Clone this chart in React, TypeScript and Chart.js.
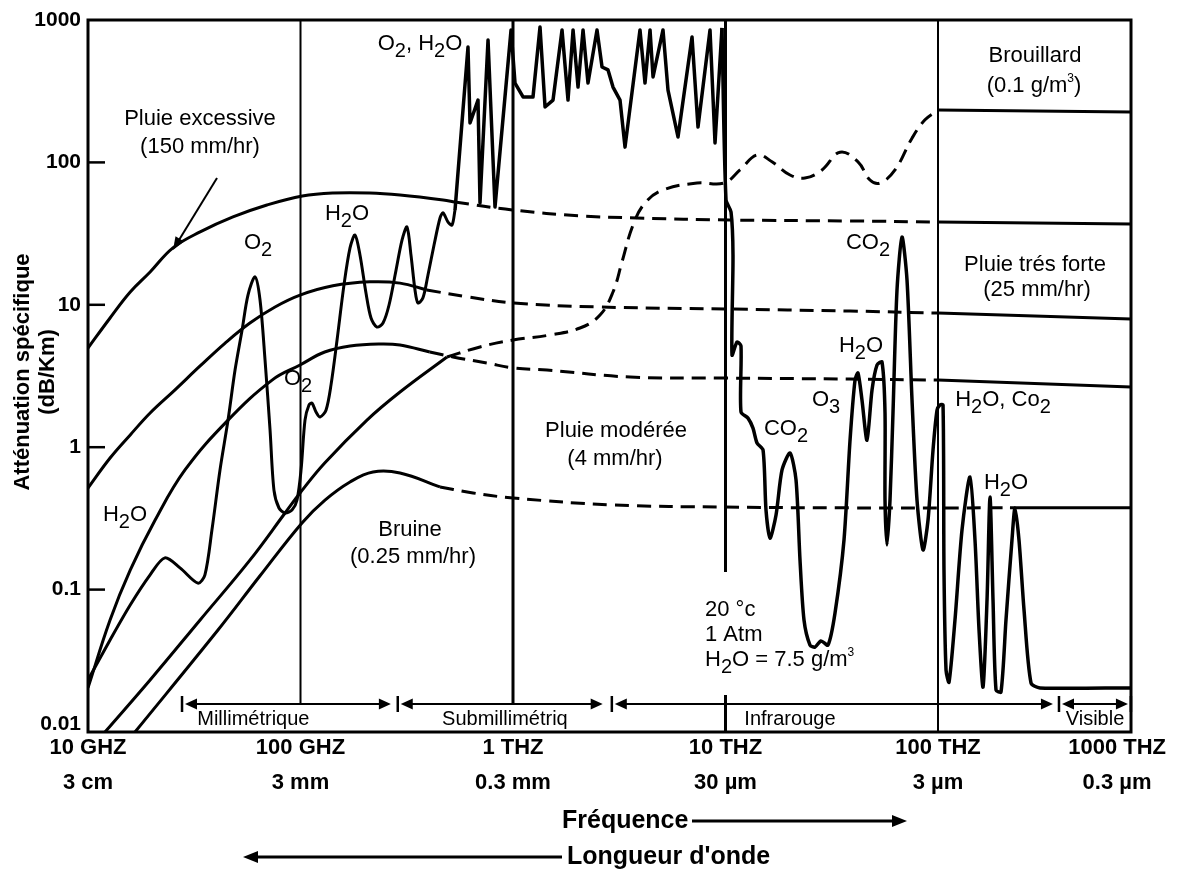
import React, { useEffect, useRef } from "react";
import { Chart, registerables } from "chart.js";

Chart.register(...registerables);

const FONT = "'Liberation Sans', Arial, Helvetica, sans-serif";

// ---- axes (frequency in GHz, attenuation in dB/km) ----
const xMinGHz = 10;
const xMaxGHz = 809500;
const yMin = 0.01;
const yMax = 1000;
const yTickValues = [0.01, 0.1, 1, 10, 100, 1000];
const yTickLabels = ["0.01", "0.1", "1", "10", "100", "1000"];
const yInnerTickValues = [0.1, 1, 10, 100];
const xTickValues = [10, 100, 1000, 10000, 100000, 1000000];
const xTickFreqLabels = ["10 GHZ", "100 GHZ", "1 THZ", "10 THZ", "100 THZ", "1000 THZ"];
const xTickWaveLabels = ["3 cm", "3 mm", "0.3 mm", "30 µm", "3 µm", "0.3 µm"];
const refLineFreqs = [100, 1000, 10000, 100000];

// ---- spectral bands ----
const bandNames = ["Millimétrique", "Submillimétriq", "Infrarouge", "Visible"];
const bandStartGHz = [28, 290, 2950, 375000];
const bandEndGHz = [272, 2700, 355000, 800000];
const bandLabelGHz = [60, 916, 20100, 548000];

// ---- Pluie excessive (150 mm/hr) ----
const excSolidFreq = [10, 12.7, 15.8, 19.6, 25.1, 33.7, 48.1, 69.5, 102, 142, 212, 294, 469, 533];
const excSolidAtt = [4.97, 8.08, 12.3, 17.0, 25.1, 32.5, 41.4, 50.2, 58.1, 61, 61, 59, 54.5, 52.7];
const excDashFreq = [533, 1000, 2065, 3830, 10470, 38400, 100000];
const excDashAtt = [52.7, 46.3, 42.1, 40.7, 39.4, 38.8, 38.1];
const excRightFreq = [100000, 809500];
const excRightAtt = [38.1, 36.9];

// ---- Pluie très forte (25 mm/hr) ----
const forteSolidFreq = [10, 12.7, 15.8, 19.6, 25.6, 33.7, 44.2, 57.8, 75.9, 99.5, 142, 212, 294, 393];
const forteSolidAtt = [0.517, 0.84, 1.22, 1.74, 2.52, 3.72, 5.39, 7.45, 9.66, 11.7, 13.6, 14.5, 14.2, 12.7];
const forteDashFreq = [393, 608, 1000, 2480, 9950, 38500, 100000];
const forteDashAtt = [12.7, 11.4, 10.3, 9.66, 9.35, 9.04, 8.75];
const forteRightFreq = [100000, 809500];
const forteRightAtt = [8.75, 7.94];

// ---- Pluie modérée (4 mm/hr) ----
const modSolidFreq = [10, 12.7, 15.8, 20.7, 28.6, 45.6, 73.5, 99.5, 130, 171, 237, 294, 406];
const modSolidAtt = [0.0204, 0.0612, 0.137, 0.308, 0.692, 1.55, 2.96, 3.78, 4.66, 5.14, 5.31, 5.22, 4.66];
const modDashFreq = [406, 522, 755, 1000, 1445, 3560, 9950, 38500, 100000];
const modDashAtt = [4.66, 4.3, 3.9, 3.6, 3.48, 3.11, 3.06, 3.01, 2.96];
const modRightFreq = [100000, 809500];
const modRightAtt = [2.96, 2.65];

// ---- Bruine (0.25 mm/hr) ----
const bruSolidFreq = [16.64, 40.9, 64.5, 101.6, 130.4, 171, 219.4, 294, 453.5];
const bruSolidAtt = [0.01, 0.052, 0.125, 0.294, 0.425, 0.57, 0.67, 0.659, 0.526];
const bruDashFreq = [453.5, 648.4, 1000, 2955, 9950, 38500, 218100];
const bruDashAtt = [0.526, 0.477, 0.44, 0.393, 0.38, 0.375, 0.375];
const bruRightFreq = [218100, 809500];
const bruRightAtt = [0.375, 0.375];

// ---- Brouillard (0.1 g/m3) ----
const fogSolidFreq = [12.02, 19.6, 33.7, 57.8, 84.6, 99.5, 130, 205.5, 294, 489];
const fogSolidAtt = [0.01, 0.0232, 0.0612, 0.161, 0.345, 0.477, 0.774, 1.55, 2.44, 4.3];
const fogDashFreq = [489, 699.4, 1000, 1493, 2067, 2567, 2955, 3258, 3670, 4180, 5080, 7345, 9838, 11700, 14070, 16550, 20120, 23660, 28460, 34580, 42030, 47860, 53350, 62760, 75460, 86860, 100000];
const fogDashAtt = [4.3, 5.06, 5.66, 6.14, 6.87, 8.47, 12.3, 20.0, 36.3, 51.9, 64.0, 71.6, 71.6, 88.5, 113, 101, 81.6, 77.6, 88.5, 118, 101, 75.2, 71.6, 88.5, 148, 199, 233];
const fogRightFreq = [100000, 809500];
const fogRightAtt = [233, 226];

// ---- Gaz atmosphériques (20 °C, 1 atm, H2O 7.5 g/m3) ----
const gasMmFreq = [10, 12.7, 15.8, 19.6, 23.0, 27.1, 32.9, 35.5, 38.3, 41.8, 45.6, 49.2, 53.1, 56.6, 61.1, 64.5, 68.1, 71.9, 75.0, 79.2, 84.6, 91.2, 96.3, 100.6, 105, 109.6, 113.3, 118.3, 123.6, 131.8, 139.2, 148.6, 160.2, 171, 180.5, 190.5, 203.3, 214.7, 229, 244.5, 261, 281.5, 300.4, 317, 331, 345.8, 357, 377, 398, 425, 453.5, 468.5, 494.6, 516.5, 533.5];
const gasMmAtt = [0.0232, 0.0443, 0.078, 0.127, 0.167, 0.142, 0.111, 0.127, 0.262, 0.692, 1.55, 3.48, 6.65, 11.7, 15.7, 10.8, 4.09, 1.32, 0.5, 0.374, 0.345, 0.362, 0.426, 0.692, 1.55, 1.98, 2.04, 1.77, 1.63, 1.82, 2.74, 5.66, 13.8, 25.1, 30.9, 22.4, 12.1, 8.07, 6.98, 7.45, 9.97, 17.5, 28.5, 35.2, 22.4, 12.7, 10.3, 11.2, 16.2, 26.3, 40.7, 44.2, 38.1, 36.3, 46.3];
const gasSubFreq = [533.5, 614, 627.6, 684.4, 699.4, 762.9, 822.8, 979, 1022, 1115, 1242, 1340, 1415, 1543, 1701, 1815, 1917, 2023, 2136, 2254, 2485, 2624, 2800, 2955, 3189, 3366, 3959, 4180, 4414, 4560, 5080, 5363, 5977, 6957, 7424, 8455, 8927, 9627];
const gasSubAtt = [46.3, 646, 189, 274, 51.9, 724, 48.6, 851, 361, 288, 288, 893, 245, 274, 851, 274, 851, 338, 851, 361, 851, 468, 446, 338, 274, 128, 851, 361, 851, 398, 851, 322, 151, 760, 177, 851, 137, 879];
const gasIrFreq = [9627, 10055, 10615, 10846, 10730, 11327, 11826, 11826, 12760, 13470, 14070, 15020, 15510, 16200, 17290, 18450, 20120, 21470, 22420, 23410, 24980, 26380, 28140, 30370, 32760, 36110, 38550, 40690, 42030, 43890, 46340, 48920, 51640, 54520, 56320, 56320, 57540, 59440, 61400, 64130, 67700, 71480, 75460, 79660, 85030, 89760, 94740, 98930, 102200, 105600, 106700, 109100, 112700, 120200, 129700, 141400, 149300, 156000, 162900, 170100, 175700, 181500, 187500, 197900, 208900, 222900, 230300, 240500, 254000, 273900, 302000, 809500];
const gasIrAtt = [879, 54.5, 44.9, 22.4, 4.44, 5.48, 5.14, 1.77, 1.6, 1.36, 1.07, 0.955, 0.362, 0.23, 0.334, 0.692, 0.91, 0.589, 0.161, 0.0612, 0.0408, 0.0395, 0.0436, 0.0408, 0.0685, 0.223, 1.12, 2.96, 3.32, 2.14, 1.12, 2.52, 3.78, 3.96, 1.74, 0.425, 0.206, 0.425, 1.74, 12.7, 29.9, 14.9, 2.14, 0.425, 0.19, 0.308, 0.955, 1.82, 1.98, 1.98, 0.137, 0.0272, 0.0224, 0.0612, 0.262, 0.618, 0.223, 0.052, 0.0207, 0.0845, 0.447, 0.0845, 0.0197, 0.0191, 0.0612, 0.223, 0.374, 0.223, 0.0719, 0.0221, 0.0204, 0.0204];

// ---- text annotations (pixel positions on the canvas) ----
type Note = { text: string; x: number; y: number; align?: CanvasTextAlign };
const notes: Note[] = [
  { text: "Pluie excessive", x: 200, y: 119 },
  { text: "(150 mm/hr)", x: 200, y: 147 },
  { text: "O_2", x: 258, y: 243 },
  { text: "H_2O", x: 347, y: 214 },
  { text: "O_2", x: 298, y: 379 },
  { text: "H_2O", x: 125, y: 515 },
  { text: "O_2, H_2O", x: 420, y: 44 },
  { text: "Bruine", x: 410, y: 530 },
  { text: "(0.25 mm/hr)", x: 413, y: 557 },
  { text: "Pluie modérée", x: 616, y: 431 },
  { text: "(4 mm/hr)", x: 615, y: 459 },
  { text: "Brouillard", x: 1035, y: 56 },
  { text: "(0.1 g/m^3)", x: 1034, y: 86 },
  { text: "Pluie trés forte", x: 1035, y: 265 },
  { text: "(25 mm/hr)", x: 1037, y: 290 },
  { text: "CO_2", x: 868, y: 243 },
  { text: "H_2O", x: 861, y: 346 },
  { text: "O_3", x: 826, y: 400 },
  { text: "CO_2", x: 786, y: 429 },
  { text: "H_2O, Co_2", x: 1003, y: 400 },
  { text: "H_2O", x: 1006, y: 483 },
  { text: "20 °c", x: 705, y: 610, align: "left" },
  { text: "1 Atm", x: 705, y: 635, align: "left" },
  { text: "H_2O = 7.5 g/m^3", x: 705, y: 660, align: "left" },
];

function drawRich(ctx: CanvasRenderingContext2D, text: string, x: number, y: number, size: number, align: CanvasTextAlign = "center") {
  const parts: { t: string; k: string }[] = [];
  let i = 0;
  while (i < text.length) {
    const c = text[i];
    if (c === "_" || c === "^") {
      parts.push({ t: text[i + 1], k: c });
      i += 2;
    } else {
      let j = i;
      while (j < text.length && text[j] !== "_" && text[j] !== "^") j++;
      parts.push({ t: text.slice(i, j), k: "" });
      i = j;
    }
  }
  const fontFor = (k: string) => `${k === "" ? size : k === "_" ? Math.round(size * 0.9) : Math.round(size * 0.55)}px ${FONT}`;
  let total = 0;
  const widths = parts.map((p) => {
    ctx.font = fontFor(p.k);
    const w = ctx.measureText(p.t).width;
    total += w;
    return w;
  });
  let cx = align === "center" ? x - total / 2 : align === "right" ? x - total : x;
  ctx.textAlign = "left";
  ctx.textBaseline = "middle";
  parts.forEach((p, idx) => {
    ctx.font = fontFor(p.k);
    const dy = p.k === "_" ? size * 0.33 : p.k === "^" ? -size * 0.35 : 0;
    ctx.fillText(p.t, cx, y + dy);
    cx += widths[idx];
  });
}

function arrowHead(ctx: CanvasRenderingContext2D, tipX: number, tipY: number, dirX: number, dirY: number, len: number, half: number) {
  const n = Math.hypot(dirX, dirY);
  const ux = dirX / n, uy = dirY / n;
  const bx = tipX - ux * len, by = tipY - uy * len;
  ctx.beginPath();
  ctx.moveTo(tipX, tipY);
  ctx.lineTo(bx - uy * half, by + ux * half);
  ctx.lineTo(bx + uy * half, by - ux * half);
  ctx.closePath();
  ctx.fill();
}

const overlayPlugin = {
  id: "overlay",
  beforeDraw(chart: any) {
    const c = chart.ctx;
    c.save();
    c.fillStyle = "#fff";
    c.fillRect(0, 0, chart.width, chart.height);
    c.restore();
  },
  afterDraw(chart: any) {
    const ctx: CanvasRenderingContext2D = chart.ctx;
    const ca = chart.chartArea;
    const xs = chart.scales.x;
    const ys = chart.scales.y;
    ctx.save();
    ctx.strokeStyle = "#000";
    ctx.fillStyle = "#000";
    ctx.lineCap = "butt";

    // reference vertical lines
    const refEnds = [703, 703, 572, ca.bottom];
    const refWidths = [2, 3, 3, 2];
    refLineFreqs.forEach((f, i) => {
      const px = xs.getPixelForValue(f);
      ctx.lineWidth = refWidths[i];
      ctx.beginPath();
      ctx.moveTo(px, ca.top);
      ctx.lineTo(px, refEnds[i]);
      ctx.stroke();
    });
    {
      const px = xs.getPixelForValue(10000);
      ctx.lineWidth = 3;
      ctx.beginPath();
      ctx.moveTo(px, 695);
      ctx.lineTo(px, ca.bottom);
      ctx.stroke();
    }

    // frame
    ctx.lineWidth = 3;
    ctx.strokeRect(ca.left, ca.top, ca.right - ca.left, ca.bottom - ca.top);

    // y ticks: inner marks and labels
    ctx.lineWidth = 2.5;
    yInnerTickValues.forEach((v) => {
      const py = ys.getPixelForValue(v);
      ctx.beginPath();
      ctx.moveTo(ca.left, py);
      ctx.lineTo(ca.left + 17, py);
      ctx.stroke();
    });
    ctx.font = `bold 21px ${FONT}`;
    ctx.textAlign = "right";
    ctx.textBaseline = "middle";
    yTickValues.forEach((v, i) => {
      let py = ys.getPixelForValue(v);
      py = Math.min(Math.max(py, 18), ca.bottom - 8);
      ctx.fillText(yTickLabels[i], ca.left - 7, py);
    });

    // bands
    const by = 704;
    bandNames.forEach((name, i) => {
      const x0 = xs.getPixelForValue(bandStartGHz[i]);
      const x1 = xs.getPixelForValue(bandEndGHz[i]);
      ctx.lineWidth = 2;
      ctx.beginPath();
      ctx.moveTo(x0 + 8, by);
      ctx.lineTo(x1 - 8, by);
      ctx.stroke();
      arrowHead(ctx, x0 + 2, by, -1, 0, 12, 5.5);
      arrowHead(ctx, x1 - 2, by, 1, 0, 12, 5.5);
      ctx.lineWidth = 2.5;
      ctx.beginPath();
      ctx.moveTo(x0 - 1, by - 8);
      ctx.lineTo(x0 - 1, by + 8);
      if (i === bandNames.length - 1) {
        ctx.moveTo(x1 + 1, by - 8);
        ctx.lineTo(x1 + 1, by + 8);
      }
      ctx.stroke();
      ctx.font = `20px ${FONT}`;
      ctx.textAlign = "center";
      ctx.textBaseline = "middle";
      ctx.fillText(name, xs.getPixelForValue(bandLabelGHz[i]), 719);
    });

    // x tick labels (two lines)
    ctx.font = `bold 22px ${FONT}`;
    ctx.textAlign = "center";
    ctx.textBaseline = "middle";
    xTickValues.forEach((v, i) => {
      let px = xs.getPixelForValue(v);
      const w = Math.max(ctx.measureText(xTickFreqLabels[i]).width, ctx.measureText(xTickWaveLabels[i]).width);
      px = Math.min(px, chart.width - 12 - w / 2);
      px = Math.max(px, 8 + w / 2);
      ctx.fillText(xTickFreqLabels[i], px, 748);
      ctx.fillText(xTickWaveLabels[i], px, 783);
    });

    // axis direction captions
    ctx.font = `bold 25px ${FONT}`;
    ctx.textAlign = "left";
    ctx.fillText("Fréquence", 562, 821);
    ctx.lineWidth = 3;
    ctx.beginPath();
    ctx.moveTo(692, 821);
    ctx.lineTo(895, 821);
    ctx.stroke();
    arrowHead(ctx, 907, 821, 1, 0, 15, 6);
    ctx.fillText("Longueur d'onde", 567, 857);
    ctx.beginPath();
    ctx.moveTo(562, 857);
    ctx.lineTo(255, 857);
    ctx.stroke();
    arrowHead(ctx, 243, 857, -1, 0, 15, 6);

    // y title
    ctx.font = `bold 22px ${FONT}`;
    ctx.textAlign = "center";
    ctx.textBaseline = "middle";
    ctx.save();
    ctx.translate(23, 372);
    ctx.rotate(-Math.PI / 2);
    ctx.fillText("Atténuation spécifique", 0, 0);
    ctx.restore();
    ctx.save();
    ctx.translate(48, 372);
    ctx.rotate(-Math.PI / 2);
    ctx.fillText("(dB/Km)", 0, 0);
    ctx.restore();

    // arrow pointing at the 150 mm/hr curve
    ctx.lineWidth = 2;
    ctx.beginPath();
    ctx.moveTo(217, 178);
    ctx.lineTo(179, 240);
    ctx.stroke();
    arrowHead(ctx, 173, 250, -44, 72, 13, 5);

    // notes
    notes.forEach((n) => drawRich(ctx, n.text, n.x, n.y, 22, n.align || "center"));
    ctx.restore();
  },
};

function series(freq: number[], att: number[], extra: any = {}) {
  return {
    data: freq.map((f, i) => ({ x: f, y: att[i] })),
    borderColor: "#000",
    backgroundColor: "#000",
    borderWidth: 3,
    pointRadius: 0,
    pointHoverRadius: 0,
    showLine: true,
    fill: false,
    tension: 0,
    borderJoinStyle: "round",
    ...extra,
  };
}

const DASH = [14, 8];

export default function App() {
  const ref = useRef<HTMLCanvasElement | null>(null);
  useEffect(() => {
    if (!ref.current) return;
    const chart = new Chart(ref.current, {
      type: "scatter",
      data: {
        datasets: [
          series(excSolidFreq, excSolidAtt, { tension: 0.4 }),
          series(excDashFreq, excDashAtt, { tension: 0.4, borderDash: DASH }),
          series(excRightFreq, excRightAtt),
          series(forteSolidFreq, forteSolidAtt, { tension: 0.4 }),
          series(forteDashFreq, forteDashAtt, { tension: 0.4, borderDash: DASH }),
          series(forteRightFreq, forteRightAtt),
          series(modSolidFreq, modSolidAtt, { tension: 0.4 }),
          series(modDashFreq, modDashAtt, { tension: 0.4, borderDash: DASH }),
          series(modRightFreq, modRightAtt),
          series(bruSolidFreq, bruSolidAtt, { tension: 0.4 }),
          series(bruDashFreq, bruDashAtt, { tension: 0.4, borderDash: DASH }),
          series(bruRightFreq, bruRightAtt),
          series(fogSolidFreq, fogSolidAtt, { tension: 0.4 }),
          series(fogDashFreq, fogDashAtt, { tension: 0.4, borderDash: DASH }),
          series(fogRightFreq, fogRightAtt),
          series(gasMmFreq, gasMmAtt, { tension: 0.3 }),
          series(gasSubFreq, gasSubAtt, { tension: 0, borderWidth: 3.5 }),
          series(gasIrFreq, gasIrAtt, { tension: 0.25, borderWidth: 3.5 }),
        ],
      },
      options: {
        responsive: false,
        devicePixelRatio: 1,
        animation: false,
        layout: { padding: { top: 20, right: 47, left: 0, bottom: 0 } },
        plugins: { legend: { display: false }, tooltip: { enabled: false } },
        events: [],
        scales: {
          x: {
            type: "logarithmic",
            min: xMinGHz,
            max: xMaxGHz,
            ticks: { display: false },
            grid: { display: false, drawTicks: false },
            border: { display: false },
            afterFit: (s: any) => {
              s.height = 142;
            },
          },
          y: {
            type: "logarithmic",
            min: yMin,
            max: yMax,
            afterBuildTicks: (s: any) => {
              s.ticks = yTickValues.map((v) => ({ value: v }));
            },
            ticks: { display: false },
            grid: { display: false, drawTicks: false },
            border: { display: false },
            afterFit: (s: any) => {
              s.width = 88;
            },
          },
        },
      } as any,
      plugins: [overlayPlugin as any],
    });
    return () => chart.destroy();
  }, []);
  return (
    <div style={{ position: "absolute", left: 0, top: 0, width: 1178, height: 874, background: "#fff" }}>
      <canvas ref={ref} width={1178} height={874} style={{ display: "block" }} />
    </div>
  );
}
